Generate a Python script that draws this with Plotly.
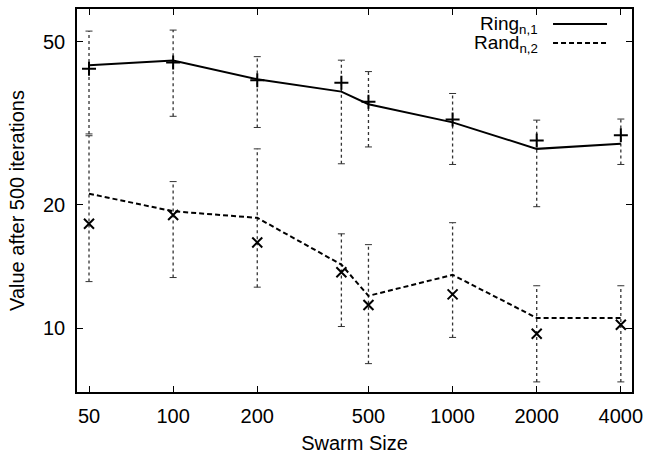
import plotly.graph_objects as go

# ---- data ----
swarm_size = [50, 100, 200, 400, 500, 1000, 2000, 4000]

ring_line = [43.8, 45.0, 40.5, 37.8, 35.2, 31.8, 27.4, 28.2]
ring_pts = [43.0, 44.5, 40.3, 39.7, 35.7, 32.3, 28.7, 29.6]
ring_lo = [29.8, 32.9, 30.9, 25.2, 27.7, 25.1, 19.8, 25.1]
ring_hi = [53.1, 53.4, 46.0, 45.1, 42.3, 37.4, 32.2, 32.4]

rand_line = [21.3, 19.3, 18.6, 14.3, 12.0, 13.5, 10.6, 10.6]
rand_pts = [18.0, 18.9, 16.2, 13.7, 11.4, 12.1, 9.7, 10.2]
rand_lo = [13.0, 13.3, 12.6, 10.1, 8.2, 9.5, 7.4, 7.4]
rand_hi = [29.5, 22.8, 27.4, 17.0, 16.0, 18.1, 12.7, 12.7]

x_ticks = [50, 100, 200, 500, 1000, 2000, 4000]
y_ticks = [10, 20, 50]

FONT = "Liberation Sans, Arial, sans-serif"
FS = 20

fig = go.Figure()


def add_errbars(xs, lo, hi, color):
    ex, ey = [], []
    for xv, l, h in zip(xs, lo, hi):
        ex += [xv, xv, None]
        ey += [l, h, None]
    fig.add_trace(go.Scatter(x=ex, y=ey, mode="lines",
                             line=dict(color=color, width=1.3, dash="dot"),
                             showlegend=False, hoverinfo="skip"))
    fig.add_trace(go.Scatter(x=list(xs) + list(xs), y=list(lo) + list(hi),
                             mode="markers",
                             marker=dict(symbol="line-ew", size=5, color=color,
                                         line=dict(color=color, width=1)),
                             showlegend=False, hoverinfo="skip"))


add_errbars(swarm_size, ring_lo, ring_hi, "#333333")
add_errbars(swarm_size, rand_lo, rand_hi, "#333333")

fig.add_trace(go.Scatter(x=swarm_size, y=ring_line, mode="lines",
                         line=dict(color="black", width=2), showlegend=False))
fig.add_trace(go.Scatter(x=swarm_size, y=rand_line, mode="lines",
                         line=dict(color="black", width=2, dash="5px,3px"),
                         showlegend=False))
fig.add_trace(go.Scatter(x=swarm_size, y=ring_pts, mode="markers",
                         marker=dict(symbol="cross-thin-open", size=10, color="black",
                                     line=dict(color="black", width=2)),
                         showlegend=False))
fig.add_trace(go.Scatter(x=swarm_size, y=rand_pts, mode="markers",
                         marker=dict(symbol="x-thin-open", size=10, color="black",
                                     line=dict(color="black", width=2)),
                         showlegend=False))

# legend built as text + sample lines (gnuplot style: text left, sample right)
leg_items = [("Ring<sub>n,1</sub>", "solid", 0.9608),
             ("Rand<sub>n,2</sub>", "5px,3px", 0.9112)]
for label, dash, yy in leg_items:
    fig.add_annotation(x=0.8324, y=yy, xref="paper", yref="paper",
                       text=label, showarrow=False, xanchor="right",
                       yanchor="middle", yshift=-1, borderpad=0,
                       font=dict(family=FONT, size=19, color="black"))
    fig.add_shape(type="line", xref="paper", yref="paper",
                  x0=0.8577, x1=0.955, y0=yy, y1=yy,
                  line=dict(color="black", width=2, dash=dash))

axis_common = dict(showline=True, linecolor="black", linewidth=1.5,
                   mirror="ticks", ticks="inside", ticklen=6, tickwidth=1.2,
                   tickcolor="black", showgrid=False, zeroline=False,
                   tickfont=dict(family=FONT, size=FS, color="black"))

fig.update_xaxes(type="log", range=[1.656, 3.642], tickvals=x_ticks,
                 ticktext=[str(v) for v in x_ticks], ticklabelstandoff=5,
                 title=dict(text="Swarm Size", font=dict(family=FONT, size=FS, color="black"),
                            standoff=14),
                 **axis_common)
fig.update_yaxes(type="log", range=[0.8446, 1.779], tickvals=y_ticks,
                 ticktext=[str(v) for v in y_ticks], ticklabelstandoff=6,
                 title=dict(text="Value after 500 iterations",
                            font=dict(family=FONT, size=FS, color="black"),
                            standoff=13),
                 **axis_common)

fig.update_layout(width=645, height=454,
                  margin=dict(l=77, r=13, t=9, b=62, autoexpand=False),
                  plot_bgcolor="white", paper_bgcolor="white",
                  font=dict(family=FONT, size=FS, color="black"))

fig.write_html("out.html")
